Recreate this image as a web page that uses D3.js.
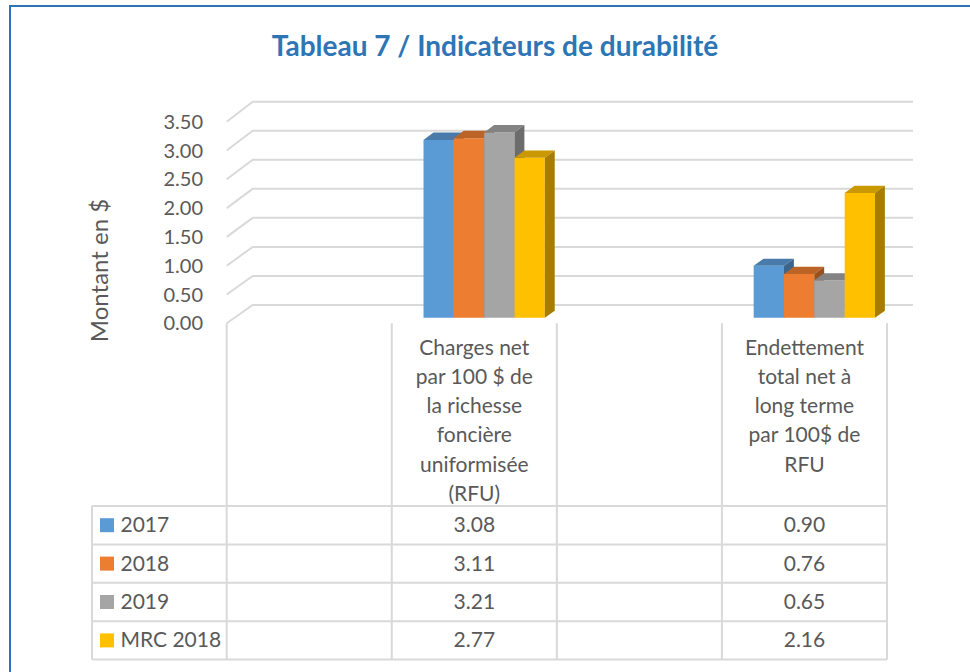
<!DOCTYPE html>
<html><head><meta charset="utf-8">
<script src="https://cdn.jsdelivr.net/npm/d3@7/dist/d3.min.js"></script>
<style>
html,body{margin:0;padding:0;background:#fff;}
svg{display:block;font-family:Lato,"Open Sans",sans-serif;}
</style></head>
<body>
<svg id="chart" width="970" height="672"></svg>
<script>
// ---------- data ----------
const categories = ["blank1", "charges", "blank2", "endettement"];
const categoryLines = [
  [],
  ["Charges net", "par 100 $ de", "la richesse", "foncière", "uniformisée", "(RFU)"],
  [],
  ["Endettement", "total net à", "long terme", "par 100$ de", "RFU"]
];
const seriesNames = ["2017", "2018", "2019", "MRC 2018"];
const values2017 = [null, 3.08, null, 0.90];
const values2018 = [null, 3.11, null, 0.76];
const values2019 = [null, 3.21, null, 0.65];
const valuesMRC2018 = [null, 2.77, null, 2.16];
const seriesValues = [values2017, values2018, values2019, valuesMRC2018];
const seriesColors = ["#5B9BD5", "#ED7D31", "#A5A5A5", "#FFC000"];
const tickValues = [0, 0.5, 1, 1.5, 2, 2.5, 3, 3.5];
const titleText = "Tableau 7 / Indicateurs de durabilité";
const yAxisTitle = "Montant en $";

// ---------- layout ----------
const svg = d3.select("#chart");
const textColor = "#595959";
const gridColor = "#D9D9D9";
const depthDX = 26;

const x = d3.scaleBand().domain(categories).range([226.7, 887]).paddingInner(0).paddingOuter(0);
const bw = x.bandwidth();
const xs = d3.scaleBand().domain(seriesNames).range([0.145 * bw, 0.88 * bw]);
const yFront = d3.scaleLinear().domain([0, 3.5]).range([323.3, 121.7]);
const yBack = d3.scaleLinear().domain([0, 3.5]).range([305, 101.7]);
function proj(px, v, t) {
  return [px + t * depthDX, yFront(v) * (1 - t) + yBack(v) * t];
}

// outer frame (blue)
svg.append("path").attr("d", "M10,672V6H970").attr("fill", "none")
  .attr("stroke", "#2E75B6").attr("stroke-width", 2);

// title
svg.append("text").attr("x", 495).attr("y", 56).attr("text-anchor", "middle")
  .attr("font-weight", "bold").attr("font-size", 28).attr("fill", "#2E75B6").text(titleText);

// walls: back gridlines + left side wall diagonals
const x0 = x.range()[0], x1 = x.range()[1];
const grid = svg.append("g").attr("stroke", gridColor).attr("stroke-width", 2).attr("fill", "none");
tickValues.forEach(v => {
  const a = proj(x0, v, 0), b = proj(x0, v, 1), c = proj(x1, v, 1);
  grid.append("path").attr("d", `M${a[0]},${a[1]}L${b[0]},${b[1]}L${c[0]},${c[1]}`);
});

// y tick labels
svg.append("g").selectAll("text").data(tickValues).join("text")
  .attr("x", 203).attr("y", d => yFront(d) + 7).attr("text-anchor", "end")
  .attr("font-size", 20).attr("fill", textColor).text(d => d3.format(".2f")(d));

// y axis title
svg.append("text").attr("transform", "translate(108,270.5) rotate(-90)")
  .attr("text-anchor", "middle").attr("font-size", 24).attr("fill", textColor).text(yAxisTitle);

// bars (3D)
const t0 = 0.3, t1 = 0.68;
const barsG = svg.append("g");
categories.forEach((cat, ci) => {
  seriesNames.forEach((s, si) => {
    const v = seriesValues[si][ci];
    if (v == null) return;
    const xl = x(cat) + xs(s), xr = xl + xs.bandwidth();
    const col = d3.color(seriesColors[si]);
    const fbl = proj(xl, 0, t0), fbr = proj(xr, 0, t0), ftl = proj(xl, v, t0), ftr = proj(xr, v, t0);
    const btl = proj(xl, v, t1), btr = proj(xr, v, t1), bbr = proj(xr, 0, t1);
    const poly = pts => "M" + pts.map(p => p.join(",")).join("L") + "Z";
    barsG.append("path").attr("d", poly([fbl, fbr, ftr, ftl])).attr("fill", col.formatHex());
    barsG.append("path").attr("d", poly([ftl, ftr, btr, btl])).attr("fill", col.darker(0.65).formatHex());
    barsG.append("path").attr("d", poly([fbr, bbr, btr, ftr])).attr("fill", col.darker(1.2).formatHex());
  });
});

// data table
const tableG = svg.append("g");
const headerTop = 323.3, rowTop = 506, rowH = 38.4;
const rows = d3.range(seriesNames.length + 1).map(i => rowTop + i * rowH);
const tableBottom = rows[rows.length - 1];
const tableLeft = 92;
const lines = tableG.append("g").attr("stroke", gridColor).attr("stroke-width", 2).attr("fill", "none");
const vx = categories.map(c => x(c)).concat([x1]);
vx.forEach(px => lines.append("line").attr("x1", px).attr("x2", px).attr("y1", headerTop).attr("y2", tableBottom));
lines.append("line").attr("x1", tableLeft).attr("x2", tableLeft).attr("y1", rowTop).attr("y2", tableBottom);
rows.forEach(py => lines.append("line").attr("x1", tableLeft).attr("x2", x1).attr("y1", py).attr("y2", py));

// header labels
categories.forEach((cat, ci) => {
  tableG.append("g").selectAll("text").data(categoryLines[ci]).join("text")
    .attr("x", x(cat) + bw / 2).attr("y", (d, i) => 354.5 + i * 29.3)
    .attr("text-anchor", "middle").attr("font-size", 21).attr("fill", textColor).text(d => d);
});

// rows: legend key + values
seriesNames.forEach((s, si) => {
  const cy = rows[si] + rowH / 2;
  tableG.append("rect").attr("x", 100).attr("y", cy - 7).attr("width", 14).attr("height", 14)
    .attr("fill", seriesColors[si]);
  tableG.append("text").attr("x", 120.5).attr("y", cy + 7).attr("font-size", 21)
    .attr("fill", textColor).text(s);
  categories.forEach((cat, ci) => {
    const v = seriesValues[si][ci];
    if (v == null) return;
    tableG.append("text").attr("x", x(cat) + bw / 2).attr("y", cy + 7)
      .attr("text-anchor", "middle").attr("font-size", 21).attr("fill", textColor)
      .text(d3.format(".2f")(v));
  });
});
</script>
</body></html>
